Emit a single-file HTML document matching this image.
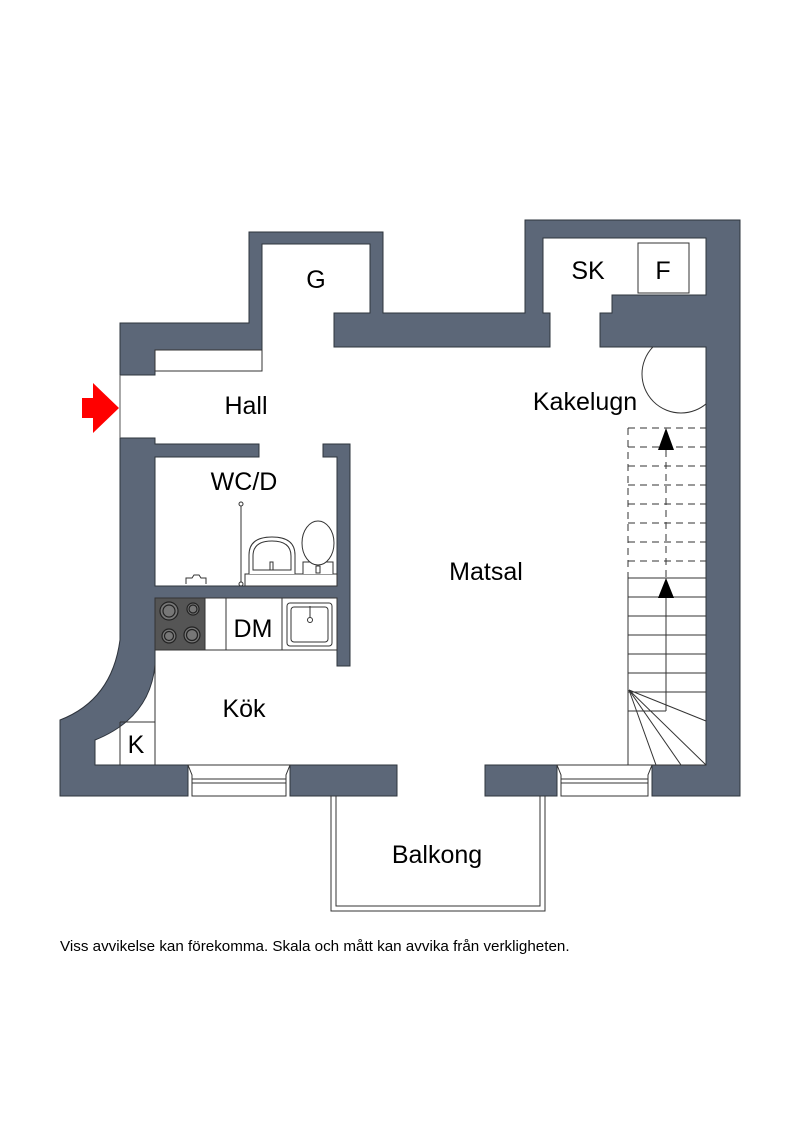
<!DOCTYPE html>
<html><head><meta charset="utf-8"><style>
html,body{margin:0;padding:0;background:#fff;}
svg{display:block}
text{font-family:"Liberation Sans",sans-serif;fill:#000}
</style></head><body>
<svg width="800" height="1131" viewBox="0 0 800 1131" xmlns="http://www.w3.org/2000/svg">
<defs><clipPath id="kc"><rect x="500" y="347" width="206" height="100"/></clipPath></defs>
<g fill="#5c6778" stroke="#2e343d" stroke-width="1">
<path d="M120,375 L120,323 L249,323 L249,232 L383,232 L383,313 L525,313 L525,220 L740,220 L740,796 L652,796 L652,765 L706,765 L706,347 L600,347 L600,313 L612,313 L612,295 L706,295 L706,238 L543,238 L543,313 L550,313 L550,347 L334,347 L334,313 L370,313 L370,244 L262,244 L262,350 L155,350 L155,375 Z"/>
<path d="M120,438 L155,438 L155,444 L259,444 L259,457 L155,457 L155,586 L337,586 L337,457 L323,457 L323,444 L350,444 L350,666 L337,666 L337,598 L155,598 L155,665 Q150,718 95,740 L95,765 L188,765 L188,796 L60,796 L60,720 Q112,700 120,640 Z"/>
<rect x="290" y="765" width="107" height="31"/>
<rect x="485" y="765" width="72" height="31"/>
</g>
<g fill="#fff" stroke="#333" stroke-width="1">
<path d="M188,765 L290,765 L286,775 L286,796 L192,796 L192,775 Z"/>
<line x1="192" y1="779" x2="286" y2="779"/><line x1="192" y1="783" x2="286" y2="783"/>
<path d="M557,765 L652,765 L648,775 L648,796 L561,796 L561,775 Z"/>
<line x1="561" y1="779" x2="648" y2="779"/><line x1="561" y1="783" x2="648" y2="783"/>
</g>
<rect x="155" y="350" width="107" height="21" fill="none" stroke="#333" stroke-width="1"/>
<line x1="120" y1="375" x2="120" y2="438" stroke="#555" stroke-width="1"/>
<g fill="none" stroke="#333" stroke-width="1">
<path d="M331,796 L331,911 L545,911 L545,796"/>
<path d="M336,796 L336,906 L540,906 L540,796"/>
</g>
<rect x="155" y="598" width="50" height="52" fill="#555" stroke="#333"/>
<g fill="#777" stroke="#222" stroke-width="1.2">
<circle cx="169" cy="611" r="9"/><circle cx="169" cy="611" r="6"/>
<circle cx="193" cy="609" r="6"/><circle cx="193" cy="609" r="4"/>
<circle cx="169" cy="636" r="7"/><circle cx="169" cy="636" r="4.5"/>
<circle cx="192" cy="635" r="8"/><circle cx="192" cy="635" r="5.5"/>
</g>
<g fill="none" stroke="#333" stroke-width="1">
<rect x="205" y="598" width="132" height="52"/>
<line x1="226" y1="598" x2="226" y2="650"/><line x1="282" y1="598" x2="282" y2="650"/>
<rect x="287" y="603" width="45" height="43" rx="3"/><rect x="291" y="607" width="37" height="35" rx="3"/>
<circle cx="310" cy="620" r="2.5"/><line x1="310" y1="606" x2="310" y2="617"/>
<line x1="155" y1="665" x2="155" y2="765"/>
<path d="M120,722 L155,722 M120,722 L120,765"/>
</g>
<g fill="#fff" stroke="#333" stroke-width="1">
<line x1="241" y1="505" x2="241" y2="584"/><circle cx="241" cy="504" r="2"/><circle cx="241" cy="584" r="2"/>
<rect x="245" y="574" width="92" height="12"/>
<path d="M249,574 L249,555 Q249,537 272,537 Q295,537 295,555 L295,574"/>
<path d="M253,570 L253,556 Q253,541 272,541 Q291,541 291,556 L291,570 Z"/>
<rect x="270" y="562" width="3" height="8"/>
<path d="M303,574 L303,562 L333,562 L333,574"/>
<ellipse cx="318" cy="543" rx="16" ry="22"/>
<rect x="316" y="566" width="4" height="7"/>
<path d="M186,584 L186,578 L192,578 L194,575 L199,575 L201,578 L206,578 L206,584" fill="#fff"/>
</g>
<circle cx="681" cy="374" r="39" fill="none" stroke="#333" stroke-width="1" clip-path="url(#kc)"/>
<g fill="none" stroke="#333" stroke-width="1">
<g stroke-dasharray="7,5">
<line x1="628" y1="428" x2="706" y2="428"/><line x1="628" y1="447" x2="706" y2="447"/>
<line x1="628" y1="466" x2="706" y2="466"/><line x1="628" y1="485" x2="706" y2="485"/>
<line x1="628" y1="504" x2="706" y2="504"/><line x1="628" y1="523" x2="706" y2="523"/>
<line x1="628" y1="542" x2="706" y2="542"/><line x1="628" y1="561" x2="706" y2="561"/>
<line x1="628" y1="428" x2="628" y2="578"/><line x1="666" y1="450" x2="666" y2="578"/>
</g>
<line x1="628" y1="578" x2="628" y2="765"/>
<line x1="628" y1="578" x2="706" y2="578"/><line x1="628" y1="597" x2="706" y2="597"/>
<line x1="628" y1="616" x2="706" y2="616"/><line x1="628" y1="635" x2="706" y2="635"/>
<line x1="628" y1="654" x2="706" y2="654"/><line x1="628" y1="673" x2="706" y2="673"/>
<line x1="628" y1="692" x2="706" y2="692"/><line x1="628" y1="711" x2="666" y2="711"/>
<line x1="628" y1="765" x2="706" y2="765"/>
<line x1="666" y1="596" x2="666" y2="711"/>
<line x1="629" y1="690" x2="706" y2="721"/><line x1="629" y1="690" x2="706" y2="765"/>
<line x1="629" y1="690" x2="681" y2="765"/><line x1="629" y1="690" x2="656" y2="765"/>
</g>
<path d="M666,428 L658,450 L674,450 Z M666,578 L658,598 L674,598 Z" fill="#000"/>
<rect x="638" y="243" width="51" height="50" fill="#fff" stroke="#333"/>
<path d="M82,398 L93,398 L93,383 L119,408 L93,433 L93,418 L82,418 Z" fill="#f00"/>
<g font-size="25">
<text x="246" y="414" text-anchor="middle">Hall</text>
<text x="316" y="288" text-anchor="middle">G</text>
<text x="244" y="490" text-anchor="middle">WC/D</text>
<text x="486" y="580" text-anchor="middle">Matsal</text>
<text x="585" y="410" text-anchor="middle">Kakelugn</text>
<text x="588" y="279" text-anchor="middle">SK</text>
<text x="663" y="279" text-anchor="middle">F</text>
<text x="253" y="637" text-anchor="middle">DM</text>
<text x="244" y="717" text-anchor="middle">Kök</text>
<text x="136" y="753" text-anchor="middle">K</text>
<text x="437" y="863" text-anchor="middle">Balkong</text>
</g>
<text x="60" y="951" font-size="15.2">Viss avvikelse kan förekomma. Skala och mått kan avvika från verkligheten.</text>
</svg>
</body></html>
